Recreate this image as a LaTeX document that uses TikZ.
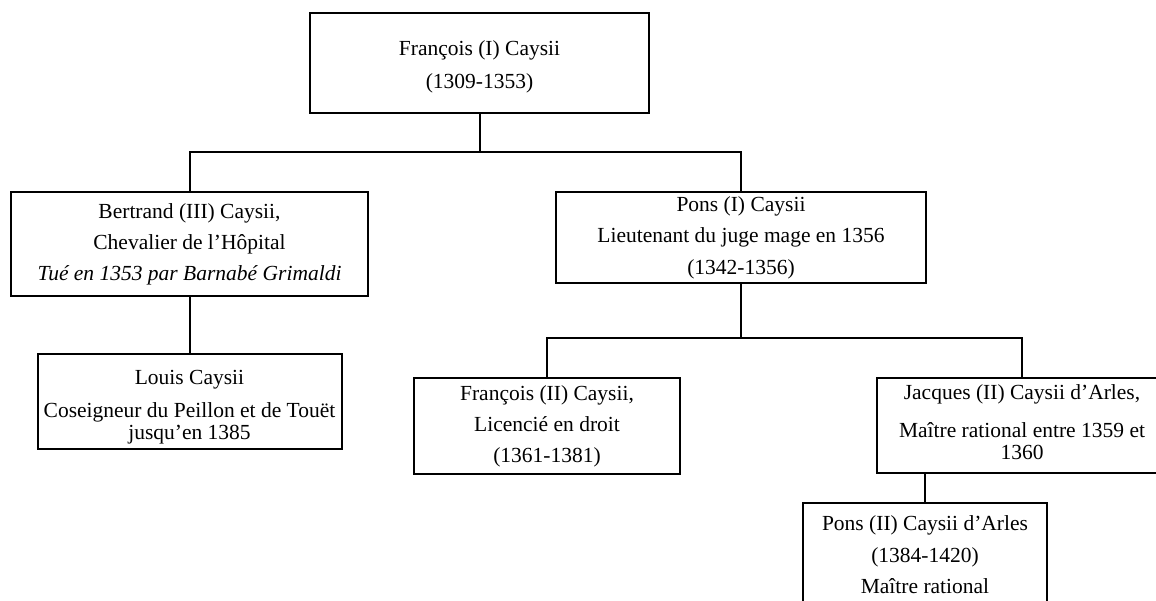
\documentclass[tikz,border=0pt]{standalone}
\usepackage{fontspec}
\setmainfont{Liberation Serif}
\begin{document}
\begin{tikzpicture}[x=1pt,y=-1pt,
  box/.style={draw, line width=2pt, rectangle, inner sep=0pt, align=center,
    font=\fontsize{21.5}{22}\selectfont},
  link/.style={line width=2pt}]
\useasboundingbox (0,0) rectangle (1156,601);
\clip (0,0) rectangle (1156,601);
\node[box, minimum width=339pt, minimum height=100pt] (top) at (479.5,63)
  {\rule{0pt}{23pt}François (I) Caysii\\[11pt](1309-1353)};
\node[box, minimum width=357pt, minimum height=104pt] (bert) at (189.5,244)
  {Bertrand (III) Caysii,\\[9pt]Chevalier de l’Hôpital\\[9pt]\itshape Tué en 1353 par Barnabé Grimaldi};
\node[box, minimum width=370pt, minimum height=91pt] (ponsI) at (741,237.5)
  {Pons (I) Caysii\\[9.5pt]Lieutenant du juge mage en 1356\\[9.5pt](1342-1356)};
\node[box, minimum width=304pt, minimum height=95pt] (louis) at (189.5,401.5)
  {\rule{0pt}{25pt}Louis Caysii\\[11pt]Coseigneur du Peillon et de Touët\\jusqu’en 1385};
\node[box, minimum width=266pt, minimum height=96pt] (fran) at (547,426)
  {François (II) Caysii,\\[9pt]Licencié en droit\\[9pt](1361-1381)};
\node[box, minimum width=290pt, minimum height=95pt] (jac) at (1022,425.5)
  {Jacques (II) Caysii d’Arles,\\[16pt]Maître rational entre 1359 et\\1360\rule[-6pt]{0pt}{6pt}};
\node[box, minimum width=244pt, minimum height=104pt] (pons2) at (925,555)
  {Pons (II) Caysii d’Arles\\[9.5pt](1384-1420)\\[9.5pt]Maître rational};
\coordinate (j1) at (479.5,152);
\coordinate (j2) at (741,338);
\draw[link] (top.south) -- (top.south |- j1);
\draw[link] (bert.north) |- (ponsI.north |- j1) -- (ponsI.north);
\draw[link] (bert.south) -- (louis.north);
\draw[link] (ponsI.south) -- (ponsI.south |- j2);
\draw[link] (fran.north) |- (jac.north |- j2) -- (jac.north);
\draw[link] (jac.south -| pons2.north) -- (pons2.north);
\end{tikzpicture}
\end{document}
